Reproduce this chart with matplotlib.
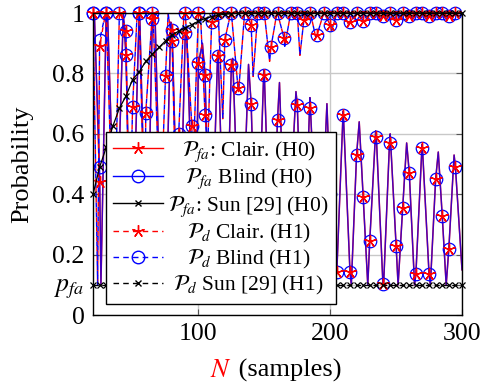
import numpy as np
import matplotlib
matplotlib.use("Agg")
import matplotlib.pyplot as plt
from matplotlib.lines import Line2D

plt.rcParams['font.family'] = ['Liberation Serif', 'DejaVu Serif']
plt.rcParams['mathtext.fontset'] = 'stix'

# marked samples (one mark every 5 samples)
n_mk = np.arange(20, 300, 5)

pfa_clair_mk = [1.00, 0.44, 1.00, 0.45, 0.55, 0.86, 0.20, 1.00, 0.20, 0.98,
                0.50, 0.25, 0.945, 0.12, 0.934, 0.40, 0.834, 0.796, 0.20, 0.857,
                0.15, 0.829, 0.35, 0.45, 0.70, 0.20, 0.796, 0.12, 0.647, 0.30,
                0.40, 0.697, 0.15, 0.685, 0.20, 0.45, 0.40, 0.143, 0.662, 0.143,
                0.530, 0.392, 0.246, 0.590, 0.103, 0.571, 0.230, 0.356, 0.471, 0.136,
                0.552, 0.136, 0.450, 0.329, 0.219, 0.491]
pfa_blind_mk = [1.00, 0.49, 1.00, 0.45, 0.55, 0.86, 0.20, 1.00, 0.20, 0.98,
                0.50, 0.25, 0.945, 0.12, 0.934, 0.40, 0.834, 0.796, 0.20, 0.857,
                0.15, 0.829, 0.35, 0.45, 0.70, 0.20, 0.796, 0.12, 0.647, 0.30,
                0.40, 0.697, 0.15, 0.685, 0.20, 0.45, 0.40, 0.143, 0.662, 0.143,
                0.530, 0.392, 0.246, 0.590, 0.103, 0.571, 0.230, 0.356, 0.471, 0.136,
                0.552, 0.136, 0.450, 0.329, 0.219, 0.491]
pd_clair_mk = [1.00, 0.89, 1.00, 0.30, 1.00, 0.94, 0.69, 1.00, 0.669, 1.00,
               0.45, 0.79, 0.906, 0.60, 1.00, 0.625, 1.00, 0.663, 0.97, 1.00,
               0.912, 1.00, 0.753, 1.00, 0.961, 1.00, 1.00, 0.886, 1.00, 0.916,
               1.00, 1.00, 0.977, 1.00, 0.927, 1.00, 0.96, 1.00, 1.00, 0.97,
               1.00, 0.975, 1.00, 1.00, 0.99, 1.00, 0.977, 1.00, 0.99, 1.00,
               1.00, 0.99, 1.00, 1.00, 0.99, 1.00]
pd_blind_mk = [1.00, 0.91, 1.00, 0.30, 1.00, 0.94, 0.69, 1.00, 0.669, 1.00,
               0.45, 0.79, 0.906, 0.60, 1.00, 0.625, 1.00, 0.663, 0.97, 1.00,
               0.912, 1.00, 0.753, 1.00, 0.961, 1.00, 1.00, 0.886, 1.00, 0.916,
               1.00, 1.00, 0.977, 1.00, 0.927, 1.00, 0.96, 1.00, 1.00, 0.97,
               1.00, 0.975, 1.00, 1.00, 0.99, 1.00, 0.977, 1.00, 0.99, 1.00,
               1.00, 0.99, 1.00, 1.00, 0.99, 1.00]

# turning points of the H0 curves (peaks and troughs)
h0_peak_n = [21, 31, 43, 55.4, 67, 79, 91, 103, 114.6, 126, 138, 149.6,
             161.5, 174, 184.6, 197.5, 209.8, 222, 234.5, 245.5, 258, 269.7, 282, 294]
h0_peak_v = [1.00, 1.00, 1.00, 1.00, 1.00, 0.97, 0.95, 0.90, 0.87, 0.85, 0.83, 0.81,
             0.77, 0.74, 0.72, 0.70, 0.675, 0.64, 0.61, 0.60, 0.57, 0.565, 0.54, 0.53]
h0_trough_n = [26, 37, 49, 61, 73, 85.4, 97, 109, 120.5, 132, 144, 155.5,
               167.5, 179.5, 191, 203.5, 216, 228.5, 240.5, 251.5, 264, 276, 288, 300]
h0_trough_v = [0.10, 0.10, 0.10, 0.10, 0.10, 0.10, 0.10, 0.10, 0.10, 0.10, 0.10, 0.10,
               0.10, 0.10, 0.10, 0.10, 0.10, 0.10, 0.10, 0.10, 0.10, 0.10, 0.10, 0.15]

# turning points of the H1 curves (dips and tops)
h1_dip_n = [23.5, 35.5, 47.5, 59.5, 71, 83, 95.5, 107, 118.5, 130.5, 141.5, 154,
            165.5, 177, 189, 201, 214, 226, 238, 250.5, 262, 274, 286, 298]
h1_dip_v = [0.10, 0.12, 0.18, 0.25, 0.30, 0.36, 0.45, 0.55, 0.65, 0.74, 0.79, 0.84,
            0.89, 0.86, 0.92, 0.94, 0.96, 0.97, 0.975, 0.975, 0.98, 0.985, 0.985, 0.99]
h1_top_n = [29.5, 41.5, 53.5, 65.5, 77, 89, 101.5, 112.5, 124.5, 136, 148, 159.5,
            171.5, 183, 195.5, 207.5, 220.5, 232, 244, 256, 268, 280.5, 292, 300]
h1_top_v = [1.00, 1.00, 1.00, 1.00, 1.00, 1.00, 1.00, 1.00, 1.00, 1.00, 1.00, 1.00,
            1.00, 1.00, 1.00, 1.00, 1.00, 1.00, 1.00, 1.00, 1.00, 1.00, 1.00, 1.00]

# Sun [29]
sun_n = np.arange(20, 301, 5)
sun_pd = [0.40, 0.49, 0.555, 0.625, 0.685, 0.725, 0.78, 0.805, 0.84, 0.864,
          0.886, 0.908, 0.928, 0.94, 0.951, 0.962, 0.973, 0.982, 0.988, 0.993,
          0.996, 0.998, 0.999, 1.00, 1.00, 1.00, 1.00, 1.00, 1.00, 1.00,
          1.00, 1.00, 1.00, 1.00, 1.00, 1.00, 1.00, 1.00, 1.00, 1.00,
          1.00, 1.00, 1.00, 1.00, 1.00, 1.00, 1.00, 1.00, 1.00, 1.00,
          1.00, 1.00, 1.00, 1.00, 1.00, 1.00, 1.00]
sun_pfa = [0.10, 0.10, 0.10, 0.10, 0.10, 0.10, 0.10, 0.10, 0.10, 0.10,
           0.10, 0.10, 0.10, 0.10, 0.10, 0.10, 0.10, 0.10, 0.10, 0.10,
           0.10, 0.10, 0.10, 0.10, 0.10, 0.10, 0.10, 0.10, 0.10, 0.10,
           0.10, 0.10, 0.10, 0.10, 0.10, 0.10, 0.10, 0.10, 0.10, 0.10,
           0.10, 0.10, 0.10, 0.10, 0.10, 0.10, 0.10, 0.10, 0.10, 0.10,
           0.10, 0.10, 0.10, 0.10, 0.10, 0.10, 0.10]

yticks = [0, 0.1, 0.2, 0.4, 0.6, 0.8, 1]
ytick_labels = ['0', r'$p_{fa}$', '0.2', '0.4', '0.6', '0.8', '1']
xticks = [100, 200, 300]

labels = [r'$\mathcal{P}_{fa}$: Clair. (H0)',
          r'$\mathcal{P}_{fa}$ Blind (H0)',
          r'$\mathcal{P}_{fa}$: Sun [29] (H0)',
          r'$\mathcal{P}_{d}$ Clair. (H1)',
          r'$\mathcal{P}_{d}$ Blind (H1)',
          r'$\mathcal{P}_{d}$ Sun [29] (H1)']


def trace(*parts):
    # merge turning points and marked samples into one ordered polyline
    n = np.concatenate([np.asarray(a, float) for a, _ in parts])
    v = np.concatenate([np.asarray(b, float) for _, b in parts])
    order = np.argsort(n, kind='stable')
    return n[order], v[order]


STAR = (5, 2, 0)
DASH_A = (0, (3.5, 3.5))
DASH_B = (3.5, (3.5, 3.5))

fig = plt.figure(figsize=(4.82, 3.9), dpi=100)
ax = fig.add_axes([0.193, 0.192, 0.7655, 0.7745])

n0c, v0c = trace((h0_peak_n, h0_peak_v), (h0_trough_n, h0_trough_v), (n_mk, pfa_clair_mk))
n0b, v0b = trace((h0_peak_n, h0_peak_v), (h0_trough_n, h0_trough_v), (n_mk, pfa_blind_mk))
n1c, v1c = trace((h1_dip_n, h1_dip_v), (h1_top_n, h1_top_v), (n_mk, pd_clair_mk))
n1b, v1b = trace((h1_dip_n, h1_dip_v), (h1_top_n, h1_top_v), (n_mk, pd_blind_mk))

ax.plot(n0c, v0c, color='red', lw=1.1)
ax.plot(n0b, v0b, color='blue', lw=1.0, alpha=0.75)
ax.plot(n1c, v1c, color='red', lw=1.0, ls=DASH_A)
ax.plot(n1b, v1b, color='blue', lw=1.0, ls=DASH_B)

mk_style = dict(ls='none', clip_on=False, zorder=3)
ax.plot(n_mk, pd_blind_mk, marker='o', ms=9, mfc='none', mec='blue', mew=0.9, **mk_style)
ax.plot(n_mk, pd_clair_mk, marker=STAR, ms=9, color='red', mew=1.0, **mk_style)
ax.plot(n_mk, pfa_blind_mk, marker='o', ms=9, mfc='none', mec='blue', mew=0.9, **mk_style)
ax.plot(n_mk, pfa_clair_mk, marker=STAR, ms=9, color='red', mew=1.0, **mk_style)

ax.plot(sun_n, sun_pd, color='black', lw=0.9, marker='x', ms=5, mew=0.9,
        clip_on=False, zorder=4)
ax.plot(sun_n, sun_pfa, color='black', lw=0.9, ls=(0, (4, 3)), marker='x', ms=5,
        mew=0.9, clip_on=False, zorder=4)

ax.set_xlim(20, 300)
ax.set_ylim(0, 1)
ax.set_xticks(xticks)
ax.set_yticks(yticks)
ax.set_yticklabels(ytick_labels)
ax.tick_params(direction='in', length=4, top=True, right=True, color='#555555',
               labelsize=18.5, pad=6)
ax.grid(True, color='#c8c8c8', lw=1.0)
ax.set_axisbelow(True)
for s in ax.spines.values():
    s.set_linewidth(1.0)
    s.set_zorder(5)

ax.set_ylabel('Probability', fontsize=19, labelpad=14)
t_n = ax.text(0.317, -0.205, r'$N$', color='red', fontsize=19,
              transform=ax.transAxes, va='baseline')
ax.annotate(' (samples)', xy=(1, 0), xycoords=t_n, va='bottom', fontsize=19)

handles = [
    Line2D([], [], color='red', lw=1, marker=STAR, ms=9),
    Line2D([], [], color='blue', lw=1, marker='o', mfc='none', ms=9),
    Line2D([], [], color='black', lw=1, marker='x', ms=5),
    Line2D([], [], color='red', lw=1, ls=(0, (4, 3)), marker=STAR, ms=9),
    Line2D([], [], color='blue', lw=1, ls=(0, (4, 3)), marker='o', mfc='none', ms=9),
    Line2D([], [], color='black', lw=1, ls=(0, (4, 3)), marker='x', ms=5),
]
leg = ax.legend(handles, labels, loc='lower left', bbox_to_anchor=(0.035, 0.036),
                borderaxespad=0, fontsize=15.5, fancybox=False, edgecolor='black',
                framealpha=1, handlelength=2.3, handletextpad=0.25,
                labelspacing=0.14, borderpad=0.35)
leg.get_frame().set_linewidth(1.0)
leg.set_zorder(6)

# centre the legend texts like the original
fig.canvas.draw()
texts = leg.get_texts()
widths = [t.get_window_extent().width for t in texts]
wmax = max(widths)
for t, w in zip(texts, widths):
    t.set_x((wmax - w) / 2)

fig.savefig('out.png', dpi=100)
